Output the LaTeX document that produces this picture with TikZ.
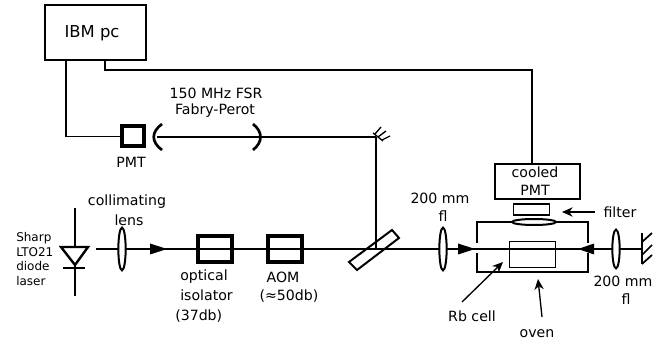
\documentclass[tikz,border=0pt]{standalone}
\usepackage{fontspec}
\setmainfont{DejaVu Sans}
\usetikzlibrary{arrows.meta,shapes.geometric}
\tikzset{
 x=0.75pt,y=-0.75pt,
 beam/.style={line width=1.5pt},
 wire/.style={line width=0.85pt},
 box/.style={draw,line width=1.3pt,inner sep=0pt,rectangle},
 tbox/.style={draw,line width=3pt,inner sep=0pt,rectangle},
 lensb/.style={draw,line width=1.5pt,fill=white,ellipse},
 lbl/.style={inner sep=0pt,font=\fontsize{10.6}{12}\selectfont},
 small/.style={inner sep=0pt,font=\fontsize{9}{10}\selectfont},
 ptr/.style={line width=1pt,-{Stealth[length=8pt,width=7pt]}},
}
\begin{document}
\begin{tikzpicture}
\useasboundingbox (0,0) rectangle (667,348);
% boxes
\node[box,minimum width=75.75pt,minimum height=41.25pt] (ibm) at (95.5,32.5) {};
\node[lbl,font=\fontsize{12.3}{14}\selectfont] (ibmt) at (92,33) {IBM pc};
\node[tbox,minimum width=17pt,minimum height=15pt] (pmt1) at (133,136.5) {};
\node[lbl] (pmt1t) at (131,162) {PMT};
\node[box,minimum width=63.75pt,minimum height=26.25pt] (cpmt) at (537.5,181.5) {};
\node[lbl] (cp1) at (535,172) {cooled};
\node[lbl] (cp2) at (535,190) {PMT};
% coordinates
\coordinate (w1a) at (66,60);
\coordinate (w1b) at (66,136.5);
\coordinate (w2a) at (105,60);
\coordinate (w2b) at (105,70);
\coordinate (w2c) at (532,70);
\coordinate (w2d) at (532,164);
\coordinate (mir) at (376,137);
\coordinate (bs) at (376,249);
\coordinate (start) at (96,249);
\coordinate (mend) at (642,249);
% wires
\draw[wire] (w1a) -- (w1b) -- (pmt1.west);
\draw[wire] (w2a) -- (w2b) -- (w2c) -- (w2d);
% fabry perot
\draw[beam] (157,137) -- (mir);
\draw[line width=1pt] (mir) -- (bs);
\draw[line width=2pt] (162,124) .. controls (151,132) and (151,142) .. (162,150);
\draw[line width=2pt] (253,124) .. controls (263,132) and (263,142) .. (253,150);
% top mirror
\draw[line width=1pt] (373,133) -- (383,141);
\draw[line width=1pt] (375,134) -- (381,127);
\draw[line width=1pt] (378,137) -- (386,131);
\draw[line width=1pt] (382,140) -- (390,136);
% main beam
\draw[beam] (start) -- (mend);
% diode
\draw[line width=1.3pt] (75,208) -- (75,296);
\draw[line width=1.8pt,fill=white] (61,247) -- (88,247) -- (75,265) -- cycle;
\draw[line width=1.8pt] (63,268) -- (85,268);
\fill (150,243.5) -- (167,249) -- (150,254.5) -- cycle;
\node[lensb,minimum width=5.5pt,minimum height=32pt,inner sep=0pt] (l1) at (122,249) {};
\node[small,anchor=west] (s1) at (16,238) {Sharp};
\node[small,anchor=west] (s2) at (16,252) {LTO21};
\node[small,anchor=west] (s3) at (16,266) {diode};
\node[small,anchor=west] (s4) at (16,281) {laser};
\node[lbl] (c1) at (127,202) {collimating};
\node[lbl] (c2) at (129,220) {lens};
\node[tbox,minimum width=25pt,minimum height=20pt] (iso) at (215,249) {};
\node[tbox,minimum width=25pt,minimum height=20pt] (aom) at (285,249) {};
\node[lbl,anchor=west] (i1) at (180,277) {optical};
\node[lbl,anchor=west] (i2) at (180,295) {isolator};
\node[lbl,anchor=west] (i3) at (175,316) {(37db)};
\node[lbl] (a1) at (283,277) {AOM};
\node[lbl] (a2) at (289,296) {(≈50db)};
\node[lbl] (f1) at (216,93) {150 MHz FSR};
\node[lbl] (f2) at (215,111) {Fabry-Perot};
% beam splitter
\draw[line width=1.5pt] (349,262) -- (357,270) -- (399,238) -- (392,230) -- cycle;
% lens 200
\node[lensb,minimum width=5.5pt,minimum height=32pt,inner sep=0pt] (l2) at (443,249) {};
\fill (458,243.5) -- (475,249) -- (458,254.5) -- cycle;
\node[lbl] (t1) at (440,198) {200 mm};
\node[lbl] (t2) at (443,216) {fl};
% oven
\draw[line width=1.3pt] (477,243) -- (477,222) -- (588,222) -- (588,243);
\draw[line width=1.3pt] (477,253) -- (477,272) -- (588,272) -- (588,253);
\node[draw,line width=0.9pt,minimum width=35pt,minimum height=19pt,inner sep=0pt] (cell) at (532.5,254.5) {};
\node[lensb,minimum width=33pt,minimum height=4.5pt,inner sep=0pt] (l3) at (534,222) {};
\node[box,minimum width=27pt,minimum height=8pt] (filt) at (531.5,209.5) {};
\draw[ptr] (595,212) -- (562,212);
\node[lbl] (ft) at (620,212) {filter};
\fill (594,243.5) -- (578,249) -- (594,254.5) -- cycle;
\node[lensb,minimum width=5.5pt,minimum height=29pt,inner sep=0pt] (l4) at (616,249) {};
\draw[line width=1.3pt] (642,233) -- (642,264);
\draw[line width=1.3pt] (642,242) -- (652,233);
\draw[line width=1.3pt] (642,255) -- (652,245);
\draw[line width=1.3pt] (642,264) -- (652,255);
\node[lbl] (r1) at (623,281) {200 mm};
\node[lbl] (r2) at (626,299) {fl};
\node[lbl] (rb) at (472,316) {Rb cell};
\node[lbl] (ov) at (537,334) {oven};
\draw[ptr] (462,302) -- (503,262);
\draw[ptr] (542,317) -- (538,279);
\end{tikzpicture}
\end{document}
